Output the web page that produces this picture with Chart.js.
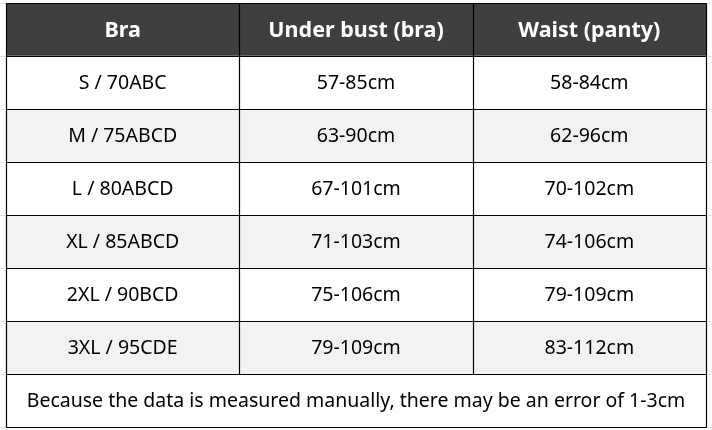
<!DOCTYPE html>
<html>
<head>
<meta charset="utf-8">
<script src="https://cdn.jsdelivr.net/npm/chart.js@4.4.0/dist/chart.umd.min.js"></script>
<style>
  html, body { margin: 0; padding: 0; background: #fff; }
  #wrap { width: 712px; height: 430px; position: relative; }
</style>
</head>
<body>
<div id="wrap"><canvas id="sizeChart"></canvas></div>
<script>
// table content
const headers = ["Bra", "Under bust (bra)", "Waist (panty)"];
const sizes = ["S / 70ABC", "M / 75ABCD", "L / 80ABCD", "XL / 85ABCD", "2XL / 90BCD", "3XL / 95CDE"];
const underBust = ["57-85cm", "63-90cm", "67-101cm", "71-103cm", "75-106cm", "79-109cm"];
const waist = ["58-84cm", "62-96cm", "70-102cm", "74-106cm", "79-109cm", "83-112cm"];
const note = "Because the data is measured manually, there may be an error of 1-3cm";

const rowLabels = ["header"].concat(sizes, ["note"]);
const colCount = headers.length;

const FONT = "'Noto Sans', sans-serif";

// row backgrounds: header dark, every other size row light grey
const rowColors = rowLabels.map((r, i) => {
  if (i === 0) return "#3f3f3f";
  if (i === rowLabels.length - 1) return "#ffffff";
  return i % 2 === 0 ? "#f2f2f2" : "#ffffff";
});

// grid lines + cell text, positioned through the chart scales
const tablePlugin = {
  id: "tableCells",
  afterDatasetsDraw(chart) {
    const ctx = chart.ctx;
    const xs = chart.scales.x;
    const ys = chart.scales.y;
    const snap = (v) => Math.round(v) + 0.5;
    const left = snap(xs.getPixelForValue(0));
    const right = snap(xs.getPixelForValue(colCount));
    const rowEdge = (i) => snap(ys.getPixelForValue(i - 0.5));
    const last = rowLabels.length;

    ctx.save();
    // faint sheet gridlines outside the table
    ctx.strokeStyle = "#e3e3e3";
    ctx.lineWidth = 1;
    for (let i = 0; i <= last; i++) {
      const y = rowEdge(i);
      ctx.beginPath();
      ctx.moveTo(0, y); ctx.lineTo(left, y);
      ctx.moveTo(right, y); ctx.lineTo(chart.width, y);
      ctx.stroke();
    }

    ctx.strokeStyle = "#000";
    ctx.lineWidth = 1.2;
    // horizontal lines
    for (let i = 0; i <= last; i++) {
      const y = rowEdge(i);
      ctx.beginPath();
      ctx.moveTo(left, y);
      ctx.lineTo(right, y);
      ctx.stroke();
    }
    // vertical lines (note row spans all columns)
    for (let c = 0; c <= colCount; c++) {
      const x = snap(xs.getPixelForValue(c));
      const bottom = (c === 0 || c === colCount) ? rowEdge(last) : rowEdge(last - 1);
      ctx.beginPath();
      ctx.moveTo(x, rowEdge(0));
      ctx.lineTo(x, bottom);
      ctx.stroke();
    }

    ctx.textAlign = "center";
    ctx.textBaseline = "middle";
    // header
    ctx.fillStyle = "#ffffff";
    ctx.font = "bold 21.5px " + FONT;
    headers.forEach((h, c) => {
      ctx.fillText(h, xs.getPixelForValue(c + 0.5), ys.getPixelForValue(0) + 1);
    });
    // body
    ctx.fillStyle = "#000000";
    ctx.font = "19.5px " + FONT;
    const cols = [sizes, underBust, waist];
    sizes.forEach((s, r) => {
      const y = ys.getPixelForValue(r + 1) + 1;
      cols.forEach((col, c) => {
        ctx.fillText(col[r], xs.getPixelForValue(c + 0.5), y);
      });
    });
    ctx.fillText(note, xs.getPixelForValue(colCount / 2), ys.getPixelForValue(last - 1) + 1);
    ctx.restore();
  }
};

new Chart(document.getElementById("sizeChart"), {
  type: "bar",
  data: {
    labels: rowLabels,
    datasets: [{
      data: rowLabels.map(() => [0, colCount]),
      backgroundColor: rowColors,
      borderWidth: 0,
      categoryPercentage: 1,
      barPercentage: 1
    }]
  },
  options: {
    indexAxis: "y",
    responsive: true,
    maintainAspectRatio: false,
    animation: false,
    layout: { padding: { top: 3, right: 6, bottom: 3, left: 6 } },
    scales: {
      x: { type: "linear", min: 0, max: colCount, display: false },
      y: { display: false }
    },
    plugins: {
      legend: { display: false },
      tooltip: { enabled: false }
    }
  },
  plugins: [tablePlugin]
});
</script>
</body>
</html>
